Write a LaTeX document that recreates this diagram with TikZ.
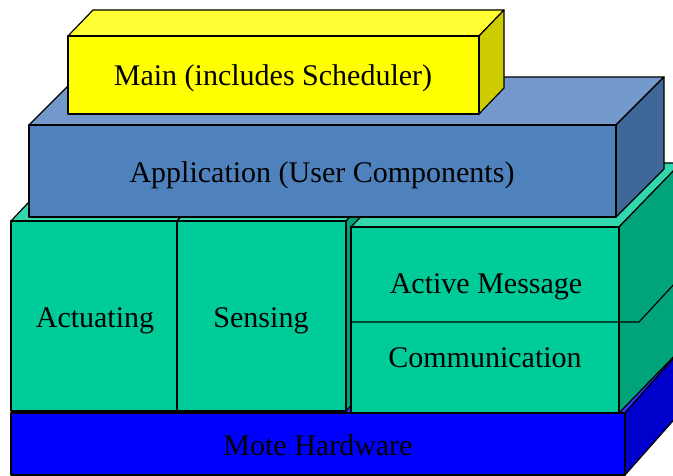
\documentclass[tikz,border=0pt]{standalone}
\usepackage{fontspec}
\setmainfont{Liberation Serif}
\definecolor{ylwF}{HTML}{FFFF00}
\definecolor{ylwT}{HTML}{FFFF33}
\definecolor{ylwR}{HTML}{CCCC00}
\definecolor{appF}{HTML}{4F81BD}
\definecolor{appT}{HTML}{7399CC}
\definecolor{appR}{HTML}{3F6797}
\definecolor{grnF}{HTML}{00CC99}
\definecolor{grnT}{HTML}{33D6AD}
\definecolor{grnR}{HTML}{00A37A}
\definecolor{motF}{HTML}{0000FF}
\definecolor{motT}{HTML}{3333FF}
\definecolor{motR}{HTML}{0000CC}
\tikzset{
  face/.style={draw=black, line width=1.2pt, line join=round},
  lbl/.style={anchor=base, inner sep=0pt, font=\fontsize{30}{32}\selectfont}
}
% #1 x1, #2 y1 (top), #3 x2, #4 y2 (bottom), #5 dx, #6 dy, #7 colour prefix
\newcommand\cubebox[7]{%
  \filldraw[face, fill=#7T] (#1,#2) -- (#1+#5,#2+#6) -- (#3+#5,#2+#6) -- (#3,#2) -- cycle;
  \filldraw[face, fill=#7R] (#3,#2) -- (#3+#5,#2+#6) -- (#3+#5,#4+#6) -- (#3,#4) -- cycle;
  \filldraw[face, fill=#7F] (#1,#2) rectangle (#3,#4);
}
\begin{document}
\begin{tikzpicture}[x=1pt,y=-1pt]
\useasboundingbox (0,0) rectangle (673,476);
\clip (0,0) rectangle (673,476);
% Mote hardware
\cubebox{11}{413}{625}{475}{62}{-70}{mot}
% green layer
\cubebox{11}{221}{177}{411}{50}{-53}{grn}
\cubebox{177}{221}{346}{411}{50}{-53}{grn}
\cubebox{351}{227}{619}{413}{62}{-64}{grn}
\coordinate (dvL) at (351,322);
\coordinate (dvM) at (639,322);
\coordinate (dvR) at (689,268);
\draw[face] (dvL) -- (dvM) -- (dvR);
% application
\cubebox{29}{125}{616}{217}{48}{-48}{app}
% main
\cubebox{68}{36}{479}{114}{25}{-26}{ylw}
% labels
\node[lbl] (main) at (273,86) {Main (includes Scheduler)};
\node[lbl] (app) at (322,183) {Application (User Components)};
\node[lbl] (act) at (95,327) {Actuating};
\node[lbl] (sens) at (261,327) {Sensing};
\node[lbl] (am) at (486,294) {Active Message};
\node[lbl] (comm) at (485,367) {Communication};
\node[lbl] (mote) at (318,455) {Mote Hardware};
\end{tikzpicture}
\end{document}
